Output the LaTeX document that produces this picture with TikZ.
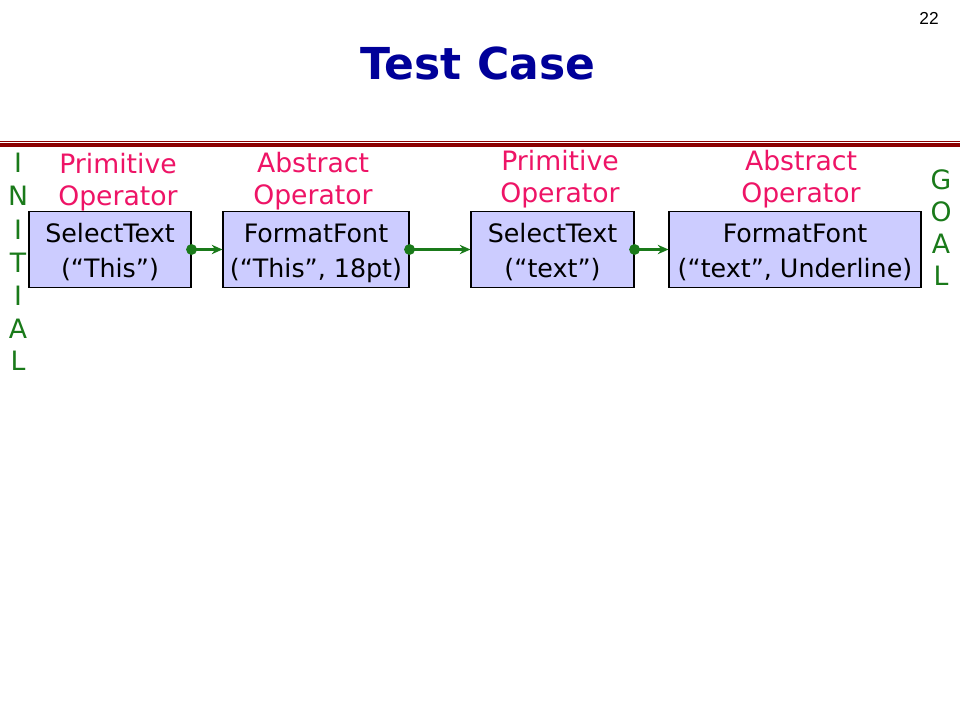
\documentclass[tikz,border=0pt]{standalone}
\usepackage{fontspec}
\setmainfont{DejaVu Sans}
\newfontfamily\numfont{Liberation Sans}
\usetikzlibrary{arrows.meta}
\definecolor{titleblue}{HTML}{000099}
\definecolor{rulered}{HTML}{8B0000}
\definecolor{opink}{HTML}{EE1466}
\definecolor{dgreen}{HTML}{1A7A1A}
\definecolor{boxfill}{HTML}{CCCCFF}
\newcommand{\topstrut}{\rule{0pt}{23pt}}
\tikzset{
  opbox/.style={draw=black, line width=0.8pt, fill=boxfill, minimum height=56.25pt,
    inner sep=0pt, align=center, font=\fontsize{19}{26.25}\selectfont},
  oplabel/.style={text=opink, align=center, inner sep=0pt, font=\fontsize{20}{24}\selectfont},
  sidelet/.style={text=dgreen, inner sep=0pt, font=\fontsize{20}{24}\selectfont},
  link/.style={draw=dgreen, line width=2.2pt, {Circle[length=8pt,width=8pt]}-{Stealth[length=8pt,width=7pt]}, shorten <=-4pt}
}
\begin{document}
\begin{tikzpicture}[x=0.75pt,y=-0.75pt]
\useasboundingbox (0,0) rectangle (960,720);
\fill[white] (0,0) rectangle (960,720);
% page number and title
\node[font=\numfont\fontsize{13}{15}\selectfont] (pg) at (929,18) {22};
\node[text=titleblue, font=\bfseries\fontsize{33}{38}\selectfont] (title) at (478,63) {Test Case};
% rule
\draw[rulered, line width=0.8pt] (0,141.5) -- (960,141.5);
\draw[rulered, line width=2.6pt] (0,145) -- (960,145);
% boxes
\node[opbox, minimum width=121.5pt] (b1) at (110,249.5) {\topstrut SelectText\\\strut(“This”)};
\node[opbox, minimum width=139.5pt] (b2) at (316,249.5) {\topstrut FormatFont\\\strut(“This”, 18pt)};
\node[opbox, minimum width=122.25pt] (b3) at (552.5,249.5) {\topstrut SelectText\\\strut(“text”)};
\node[opbox, minimum width=189pt] (b4) at (795,249.5) {\topstrut FormatFont\\\strut(“text”, Underline)};
% labels
\node[oplabel] (l1) at (118,182) {Primitive\\Operator};
\node[oplabel] (l2) at (313,181) {Abstract\\Operator};
\node[oplabel] (l3) at (560,179) {Primitive\\Operator};
\node[oplabel] (l4) at (801,179) {Abstract\\Operator};
% connectors
\draw[link] (b1.east) -- (b2.west);
\draw[link] (b2.east) -- (b3.west);
\draw[link] (b3.east) -- (b4.west);
% INITIAL
\node[sidelet] (i1) at (18,163) {I};
\node[sidelet] (i2) at (18,196) {N};
\node[sidelet] (i3) at (18,230) {I};
\node[sidelet] (i4) at (18,263) {T};
\node[sidelet] (i5) at (18,296) {I};
\node[sidelet] (i6) at (18,329) {A};
\node[sidelet] (i7) at (18,361) {L};
% GOAL
\node[sidelet] (g1) at (941,180) {G};
\node[sidelet] (g2) at (941,212) {O};
\node[sidelet] (g3) at (941,244) {A};
\node[sidelet] (g4) at (941,276) {L};
\end{tikzpicture}
\end{document}
